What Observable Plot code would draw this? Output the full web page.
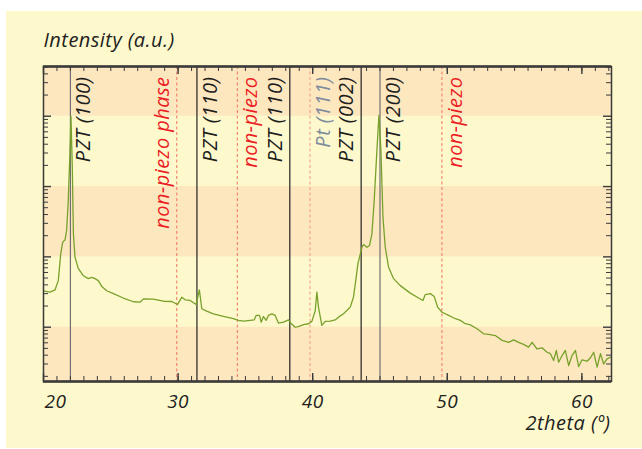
<!DOCTYPE html>
<html><head><meta charset="utf-8">
<script src="https://cdn.jsdelivr.net/npm/d3@7"></script>
<script src="https://cdn.jsdelivr.net/npm/@observablehq/plot@0.6"></script>
<style>
body{margin:0;background:#fff;}
#wrap{position:relative;width:642px;height:449px;overflow:hidden;}
#panel{position:absolute;left:6px;top:11px;width:636px;height:437px;background:#fef9cc;}
#chart{position:absolute;left:0;top:0;}
#chart text{letter-spacing:0.45px;}
</style></head><body>
<div id="wrap"><div id="panel"></div><div id="chart"></div></div>
<script>
// 2theta (degrees) and intensity (a.u., log scale)
const twoTheta = [20.04,20.48,20.86,21.10,21.28,21.43,21.60,21.72,21.84,21.97,
22.04,22.14,22.22,22.34,22.59,22.96,23.33,23.58,23.83,24.07,
24.33,24.70,25.19,25.93,26.68,27.17,27.42,28.16,28.91,29.53,
29.95,30.28,30.52,30.90,31.34,31.58,31.76,32.13,32.62,33.37,
34.11,34.48,34.86,35.35,35.65,35.80,36.05,36.17,36.34,36.54,
36.71,36.97,37.21,37.46,37.83,38.20,38.38,38.70,38.94,39.32,
39.69,39.94,40.19,40.31,40.43,40.68,40.93,41.30,41.67,41.92,
42.29,42.79,43.03,43.23,43.36,43.48,43.66,43.78,44.03,44.22,
44.40,44.57,44.77,44.92,45.07,45.22,45.39,45.64,46.01,46.51,
47.25,47.87,48.19,48.36,48.74,49.03,49.28,49.61,50.10,50.60,
50.97,51.34,51.71,52.21,52.70,53.07,53.57,54.07,54.56,54.93,
55.30,55.67,56.04,56.30,56.67,57.04,57.41,57.66,57.90,58.10,
58.27,58.53,58.77,59.02,59.27,59.52,59.76,60.01,60.39,60.63,
60.88,61.13,61.38,61.62,61.87,62.12];
const intensity = [32.5,31.5,34,46,111,162,175,238,634,3265,
9930,1888,215,99,68,54,49,51,49,46,
38,33,30,26,23,22.7,25.3,25,23.4,23.2,
21,26.7,24.5,24,21,34,18.3,16.9,15.5,14.2,
13.2,12.5,12.2,12.5,12.7,14.7,14.7,11.8,14.2,12.5,
14.7,15.5,14.7,11.4,11.8,12.7,11.4,10,10.2,10.9,
11.2,12.1,17.3,31.5,19.3,10.6,12.1,12.2,12.7,13.9,
15.5,19.3,26.7,51,80,99,137,150,137,145,
213,634,3265,10260,3265,367,137,71,49,39,
30.5,26,24,29,30,27.4,19.3,16.3,14.7,13.2,
12.5,11.2,10.8,9.5,8.05,7.9,7.6,6.5,6.1,6.6,
6.1,5.7,5.2,6.1,4.9,5.1,4.4,4.2,3.36,4.67,
3.18,3.95,4.67,2.85,3.95,4.67,2.76,3.44,3.28,3.67,
4.4,2.7,4.2,3.0,3.55,3.74];

// reference lines
const peakPositions = [22.0, 29.9, 31.4, 34.4, 38.3, 39.8, 43.6, 45.0, 49.6];
const peakLabels = ["PZT (100)", "non-piezo phase", "PZT (110)", "non-piezo", "PZT (110)", "Pt (111)", "PZT (002)", "PZT (200)", "non-piezo"];
const peakKinds = ["pztA", "np", "pzt", "np", "pzt", "pt", "pzt", "pztA", "np"];
const labelSide = ["right", "left", "right", "right", "left", "right", "left", "right", "right"];

// axis ticks / labels
const xTickLabels = [20, 30, 40, 50, 60];
const yTitle = "Intensity (a.u.)";
const xTitle = "2theta (º)";

const W = 642, H = 449, mT = 66, mB = 68, mL = 43, mR = 31;
const frameH = H - mT - mB, frameW = W - mL - mR;
const xDomain = [20, 62.2];
const yDomain = [1.69, 50930];

const data = twoTheta.map((t, i) => ({t, v: intensity[i]}));
const peaks = peakPositions.map((x, i) => ({x, label: peakLabels[i], kind: peakKinds[i], side: labelSide[i]}));

const xMinor = d3.range(20, 63, 1);
const yMajor = [10, 100, 1000, 10000];
const yMinor = [];
for (let k = 0; k <= 4; k++) for (let m = 2; m <= 9; m++) {
  const v = m * 10 ** k;
  if (v >= yDomain[0] && v <= yDomain[1]) yMinor.push(v);
}
const bands = [
  {lo: yDomain[0], hi: 10},
  {lo: 100, hi: 1000},
  {lo: 10000, hi: yDomain[1]}
];

const lineColor = k => k === "pztA" ? "#6f6f6f" : k === "pzt" ? "#222" : k === "pt" ? "#f3a292" : "#f27d6c";
const textColor = k => k === "np" ? "#ec1c24" : k === "pt" ? "#7f8c9e" : "#1e1e1e";
const axisColor = "#3a3a3a";
const font = {fontFamily: "Open Sans", fontStyle: "italic"};

const plot = Plot.plot({
  width: W, height: H,
  marginTop: mT, marginBottom: mB, marginLeft: mL, marginRight: mR,
  x: {domain: xDomain, axis: null},
  y: {type: "log", domain: yDomain, axis: null},
  style: {background: "transparent", fontFamily: "Open Sans"},
  marks: [
    Plot.rect(bands, {x1: () => xDomain[0], x2: () => xDomain[1], y1: "lo", y2: "hi", fill: "#fde7bf"}),
    // peak reference lines
    Plot.ruleX(peaks.filter(d => d.kind === "pzt" || d.kind === "pztA"), {x: "x", stroke: d => lineColor(d.kind), strokeWidth: 1.2}),
    Plot.ruleX(peaks.filter(d => d.kind === "np" || d.kind === "pt"), {x: "x", stroke: d => lineColor(d.kind), strokeWidth: 1.1, strokeDasharray: "3,2.5"}),
    // curve
    Plot.line(data, {x: "t", y: "v", stroke: "#78a12c", strokeWidth: 1.3}),
    // ticks (inward)
    Plot.tickX(xMinor, {x: d => d, insetTop: frameH - 5, stroke: axisColor}),
    Plot.tickX(xMinor, {x: d => d, insetBottom: frameH - 5, stroke: axisColor}),
    Plot.tickX(xTickLabels, {x: d => d, insetTop: frameH - 8, stroke: axisColor, strokeWidth: 1.4}),
    Plot.tickX(xTickLabels, {x: d => d, insetBottom: frameH - 8, stroke: axisColor, strokeWidth: 1.4}),
    Plot.tickY(yMinor, {y: d => d, insetRight: frameW - 5, stroke: axisColor}),
    Plot.tickY(yMinor, {y: d => d, insetLeft: frameW - 5, stroke: axisColor}),
    Plot.tickY(yMajor, {y: d => d, insetRight: frameW - 8, stroke: axisColor, strokeWidth: 1.4}),
    Plot.tickY(yMajor, {y: d => d, insetLeft: frameW - 8, stroke: axisColor, strokeWidth: 1.4}),
    // frame
    Plot.frame({stroke: axisColor, strokeWidth: 1.5}),
    Plot.ruleY(yDomain, {y: d => d, stroke: axisColor, strokeWidth: 2.5}),
    // peak labels
    Plot.text(peaks.filter(d => d.side === "right"), {x: "x", text: "label", rotate: -90, textAnchor: "end", lineAnchor: "bottom", frameAnchor: "top", dy: 10, dx: 20, fill: d => textColor(d.kind), fontSize: 20, ...font}),
    Plot.text(peaks.filter(d => d.side === "left"), {x: "x", text: "label", rotate: -90, textAnchor: "end", lineAnchor: "bottom", frameAnchor: "top", dy: 10, dx: -8, fill: d => textColor(d.kind), fontSize: 20, ...font}),
    // x tick labels
    Plot.text(xTickLabels.filter(d => d !== xDomain[0]), {x: d => d, text: d => String(d), frameAnchor: "bottom", lineAnchor: "bottom", dy: 26, fontSize: 19, fill: "#222", ...font}),
    Plot.text(xTickLabels.filter(d => d === xDomain[0]), {x: d => d, text: d => String(d), frameAnchor: "bottom", lineAnchor: "bottom", textAnchor: "start", dx: 1, dy: 26, fontSize: 19, fill: "#222", ...font}),
    // titles
    Plot.text([yTitle], {text: d => d, frameAnchor: "top-left", textAnchor: "start", lineAnchor: "bottom", dx: 0, dy: -20, fontSize: 20, fill: "#222", ...font}),
    Plot.text([xTitle], {text: d => d, frameAnchor: "bottom-right", textAnchor: "end", lineAnchor: "bottom", dx: -1, dy: 48, fontSize: 20, fill: "#222", ...font})
  ]
});
document.getElementById("chart").appendChild(plot);
</script>
</body></html>
